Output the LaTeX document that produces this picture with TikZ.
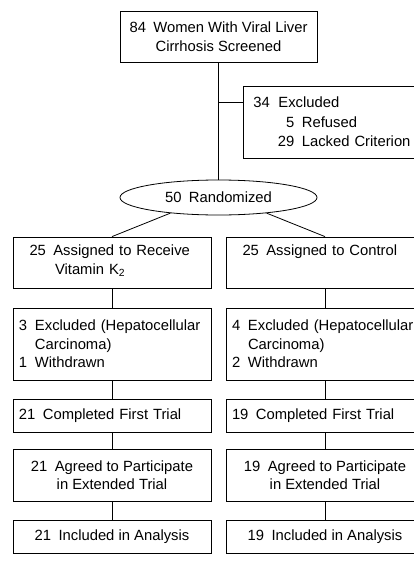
\documentclass[tikz,border=0pt]{standalone}
\usepackage{fontspec}
\setmainfont{Liberation Sans}
\usetikzlibrary{shapes.geometric}
\newcommand\fs{\fontsize{14.8pt}{18.5pt}\selectfont}
\newcommand\nsp{\hspace{0.5em}}
\newcommand\nm[1]{\makebox[16pt][l]{#1}}
\begin{document}
\begin{tikzpicture}[x=1pt,y=-1pt, line width=0.8pt,
  box/.style={draw, inner sep=0pt, minimum width=198pt, font=\fs},
  cbox/.style={box, align=center},
  lbox/.style={box, inner xsep=6pt, text width=186pt, align=left},
]
\useasboundingbox (0,0) rectangle (414,565);
\clip (0,0) rectangle (414,565);
% top part
\node[cbox, minimum width=197pt, minimum height=51pt] (top) at (218.5,36.5)
  {84\nsp Women With Viral Liver\\Cirrhosis Screened};
\node[box, minimum width=197pt, minimum height=72pt, inner xsep=10pt,
  text width=177pt, align=left, anchor=west] (excl) at (243,122)
  {\makebox[25pt][l]{34}Excluded\\[1pt]
   \makebox[41pt][r]{5}\hspace{7.5pt}Refused\\[1pt]
   \makebox[41pt][r]{29}\hspace{7.5pt}Lacked Criterion};
\node[ellipse, draw, minimum width=197pt, minimum height=35pt, inner sep=0pt,
  font=\fs] (rand) at (218.5,197.5) {50\nsp Randomized};
% left arm
\node[lbox, minimum height=51pt] (la) at (112,262.5)
  {\hspace*{10.5pt}25\nsp Assigned to Receive\\
   \hspace*{36pt}Vitamin K\textsubscript{2}\strut};
\node[lbox, minimum height=72pt] (lb) at (112,344)
  {\nm{3}Excluded (Hepatocellular\\
   \hspace*{16pt}Carcinoma)\\
   \nm{1}Withdrawn};
\node[lbox, minimum height=33pt] (lc) at (112,415.5)
  {21\nsp Completed First Trial};
\node[cbox, minimum height=52pt] (ld) at (112,475)
  {21\nsp Agreed to Participate\\in Extended Trial};
\node[cbox, minimum height=33pt] (le) at (112,536.5)
  {21\nsp Included in Analysis};
% right arm
\node[lbox, minimum height=51pt] (ra) at (325,262.5)
  {\hspace*{10.5pt}25\nsp Assigned to Control\\\strut};
\node[lbox, minimum height=72pt] (rb) at (325,344)
  {\nm{4}Excluded (Hepatocellular\\
   \hspace*{16pt}Carcinoma)\\
   \nm{2}Withdrawn};
\node[lbox, minimum height=33pt] (rc) at (325,415.5)
  {19\nsp Completed First Trial};
\node[cbox, minimum height=52pt] (rd) at (325,475)
  {19\nsp Agreed to Participate\\in Extended Trial};
\node[cbox, minimum height=33pt] (re) at (325,536.5)
  {19\nsp Included in Analysis};
% connectors
\draw (top.south) -- (rand.north);
\coordinate (br) at (218.5,102);
\draw (br) -- (br -| excl.west);
\draw (rand.198) -- (la.north);
\draw (rand.342) -- (ra.north);
\draw (la) -- (lb);
\draw (lb) -- (lc);
\draw (lc) -- (ld);
\draw (ld) -- (le);
\draw (ra) -- (rb);
\draw (rb) -- (rc);
\draw (rc) -- (rd);
\draw (rd) -- (re);
\end{tikzpicture}
\end{document}
